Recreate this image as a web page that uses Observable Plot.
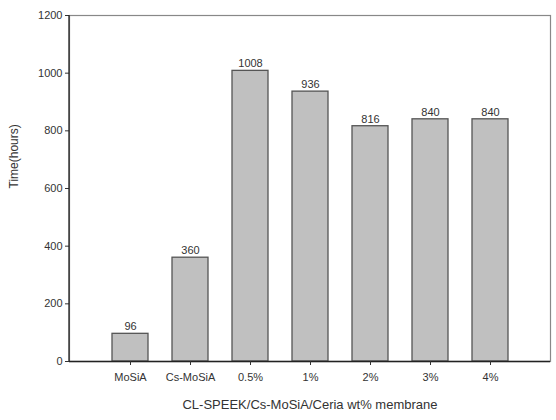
<!DOCTYPE html>
<html>
<head>
<meta charset="utf-8">
<script src="https://cdn.jsdelivr.net/npm/d3@7"></script>
<script src="https://cdn.jsdelivr.net/npm/@observablehq/plot@0.6"></script>
<style>
  html, body { margin: 0; padding: 0; background: #fff; }
  #chart svg { display: block; }
</style>
</head>
<body>
<div id="chart"></div>
<script>
const categories = ["MoSiA", "Cs-MoSiA", "0.5%", "1%", "2%", "3%", "4%"];
const hours = [96, 360, 1008, 936, 816, 840, 840];
const yTicks = [0, 200, 400, 600, 800, 1000, 1200];
const xTitle = "CL-SPEEK/Cs-MoSiA/Ceria wt% membrane";
const yTitle = "Time(hours)";

const data = categories.map((c, i) => ({ cat: c, value: hours[i] }));

const chart = Plot.plot({
  width: 556,
  height: 420,
  marginLeft: 69,
  marginRight: 6,
  marginTop: 15,
  marginBottom: 59,
  style: { fontFamily: "'Liberation Sans', Arial, sans-serif", fontSize: "11px", color: "#333", background: "#fff" },
  x: { domain: categories, paddingInner: 0.4, paddingOuter: 0.7 },
  y: { domain: [0, 1200] },
  marks: [
    Plot.frame({ stroke: "#888", strokeWidth: 1.2 }),
    Plot.barY(data, { x: "cat", y: "value", fill: "#c0c0c0", stroke: "#555", strokeWidth: 1.3 }),
    Plot.text(data, { x: "cat", y: "value", text: d => String(d.value), dy: -7, fill: "#333", fontSize: 11 }),
    Plot.ruleY([0], { stroke: "#222", strokeWidth: 1.3 }),
    Plot.axisY({ ticks: yTicks, tickFormat: d => String(d), tickSize: 4, tickPadding: 3, label: null, fontSize: 11 }),
    Plot.axisX({ tickSize: 4, tickPadding: 8, label: null, fontSize: 11 }),
    Plot.text([yTitle], { frameAnchor: "left", dx: -55, rotate: -90, fontSize: 12, fill: "#333" }),
    Plot.text([xTitle], { frameAnchor: "bottom", dy: 47, fontSize: 13, fill: "#333" })
  ]
});

// left axis line in black
const svg = d3.select(chart);
svg.append("line")
  .attr("x1", 69).attr("x2", 69)
  .attr("y1", 15).attr("y2", 361)
  .attr("stroke", "#222").attr("stroke-width", 1.3);

document.getElementById("chart").appendChild(chart);
</script>
</body>
</html>
